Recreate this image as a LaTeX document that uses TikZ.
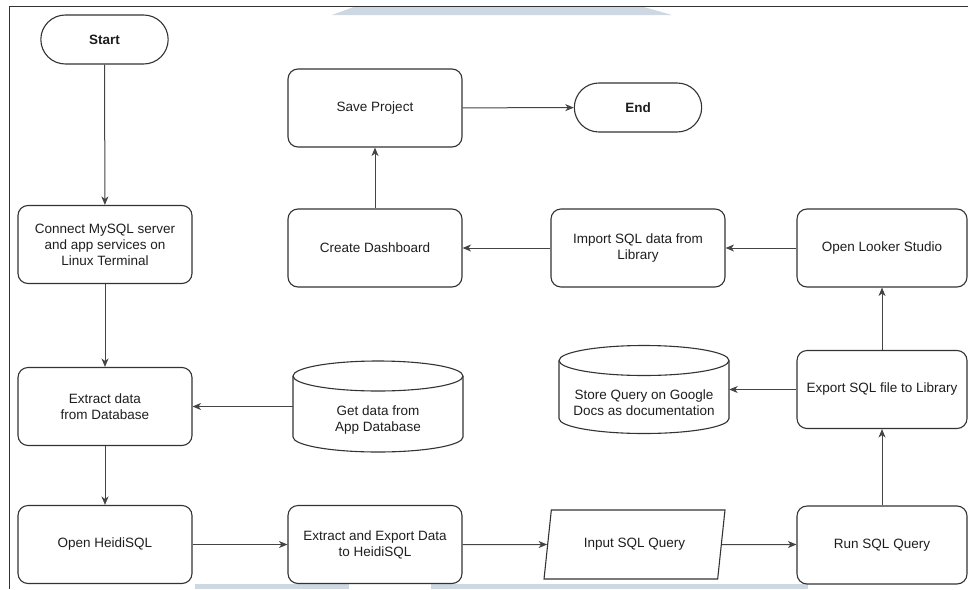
\documentclass[tikz,border=0pt]{standalone}
\usepackage{fontspec}
\setmainfont{Liberation Sans}
\usetikzlibrary{arrows.meta,shapes.geometric,shapes.misc}
\definecolor{strokec}{HTML}{333333}
\definecolor{connc}{HTML}{444444}
\definecolor{wm}{HTML}{CDD8E3}
\definecolor{txtc}{HTML}{1E1E1E}
\begin{document}
\begin{tikzpicture}[x=1pt,y=-1pt,
  lbl/.style={font=\fontsize{13.5}{16}\selectfont, text=txtc, align=center},
  box/.style={lbl, draw=strokec, line width=1.1pt, rounded corners=10pt, minimum width=174pt, minimum height=78pt, inner sep=2pt},
  rbox/.style={box, minimum width=170pt},
  term/.style={draw=strokec, line width=1.1pt, rounded rectangle, minimum width=134pt, minimum height=49pt, font=\fontsize{13.5}{16}\selectfont\bfseries, text=txtc},
  iobox/.style={lbl, draw=strokec, line width=1.1pt, trapezium, trapezium left angle=72.3, trapezium right angle=107.7, trapezium stretches=true, minimum width=181pt, minimum height=69pt, inner sep=1pt},
  cylbody/.style={draw=none, minimum width=170pt, minimum height=88pt, inner sep=0pt},
  cylline/.style={draw=strokec, line width=1.1pt},
  conn/.style={draw=connc, line width=1pt, -{Stealth[length=8.5pt,width=7pt,inset=2.5pt]}},
  frameline/.style={draw=black!80, line width=1pt}
]
\useasboundingbox (0,0) rectangle (968,589);

% light watermark fragments
\fill[wm] (355,6.5) -- (642,6.5) -- (672,15) -- (332,15) -- cycle;
\fill[wm] (195,584) rectangle (349,589);
\fill[wm] (431,584) rectangle (808,589);

% frame
\draw[frameline] (9,589) -- (9,6.5) -- (968,6.5);

% nodes
\node[term] (start) at (104.5,39.5) {Start};
\node[box] (connect) at (105,244.5) {Connect MySQL server\\and app services on\\Linux Terminal};
\node[box] (extract) at (105,406.5) {Extract data\\from Database};
\node[box] (heidi) at (105,544.5) {Open HeidiSQL};
\node[box] (eande) at (375,544.5) {Extract and Export Data\\to HeidiSQL};
\node[iobox] (input) at (634.5,544.5) {Input SQL Query};
\node[rbox] (run) at (882,545) {Run SQL Query};
\node[rbox] (export) at (882,389.5) {Export SQL file to Library};
\node[rbox] (looker) at (882,248) {Open Looker Studio};
\node[box] (import) at (638,248) {Import SQL data from\\Library};
\node[box] (dash) at (375,248) {Create Dashboard};
\node[box] (save) at (375,108) {Save Project};
\node[term] (end) at (638,107.5) {End};

% cylinders
\node[cylbody, minimum height=91pt] (getdata) at (378,406.5) {};
\draw[cylline] (293,376) arc[start angle=180,end angle=0,x radius=85pt,y radius=15pt]
  -- (463,437) arc[start angle=0,end angle=-180,x radius=85pt,y radius=15pt] -- cycle;
\draw[cylline] (293,376) arc[start angle=180,end angle=360,x radius=85pt,y radius=15pt];
\node[lbl] (getdatatxt) at (378,420) {Get data from\\App Database};

\node[cylbody] (store) at (644,389.5) {};
\draw[cylline] (559,360.5) arc[start angle=180,end angle=0,x radius=85pt,y radius=15pt]
  -- (729,418.5) arc[start angle=0,end angle=-180,x radius=85pt,y radius=15pt] -- cycle;
\draw[cylline] (559,360.5) arc[start angle=180,end angle=360,x radius=85pt,y radius=15pt];
\node[lbl] (storetxt) at (644,403) {Store Query on Google\\Docs as documentation};

% connectors
\draw[conn] (start) -- (connect);
\draw[conn] (connect) -- (extract);
\draw[conn] (getdata.west) -- (extract.east);
\draw[conn] (extract) -- (heidi);
\draw[conn] (heidi) -- (eande);
\draw[conn] (eande) -- (input);
\draw[conn] (input) -- (run.west |- input);
\draw[conn] (run) -- (export);
\draw[conn] (export.west) -- (store.east);
\draw[conn] (export) -- (looker);
\draw[conn] (looker) -- (import);
\draw[conn] (import) -- (dash);
\draw[conn] (dash) -- (save);
\draw[conn] (save) -- (end);
\end{tikzpicture}
\end{document}
